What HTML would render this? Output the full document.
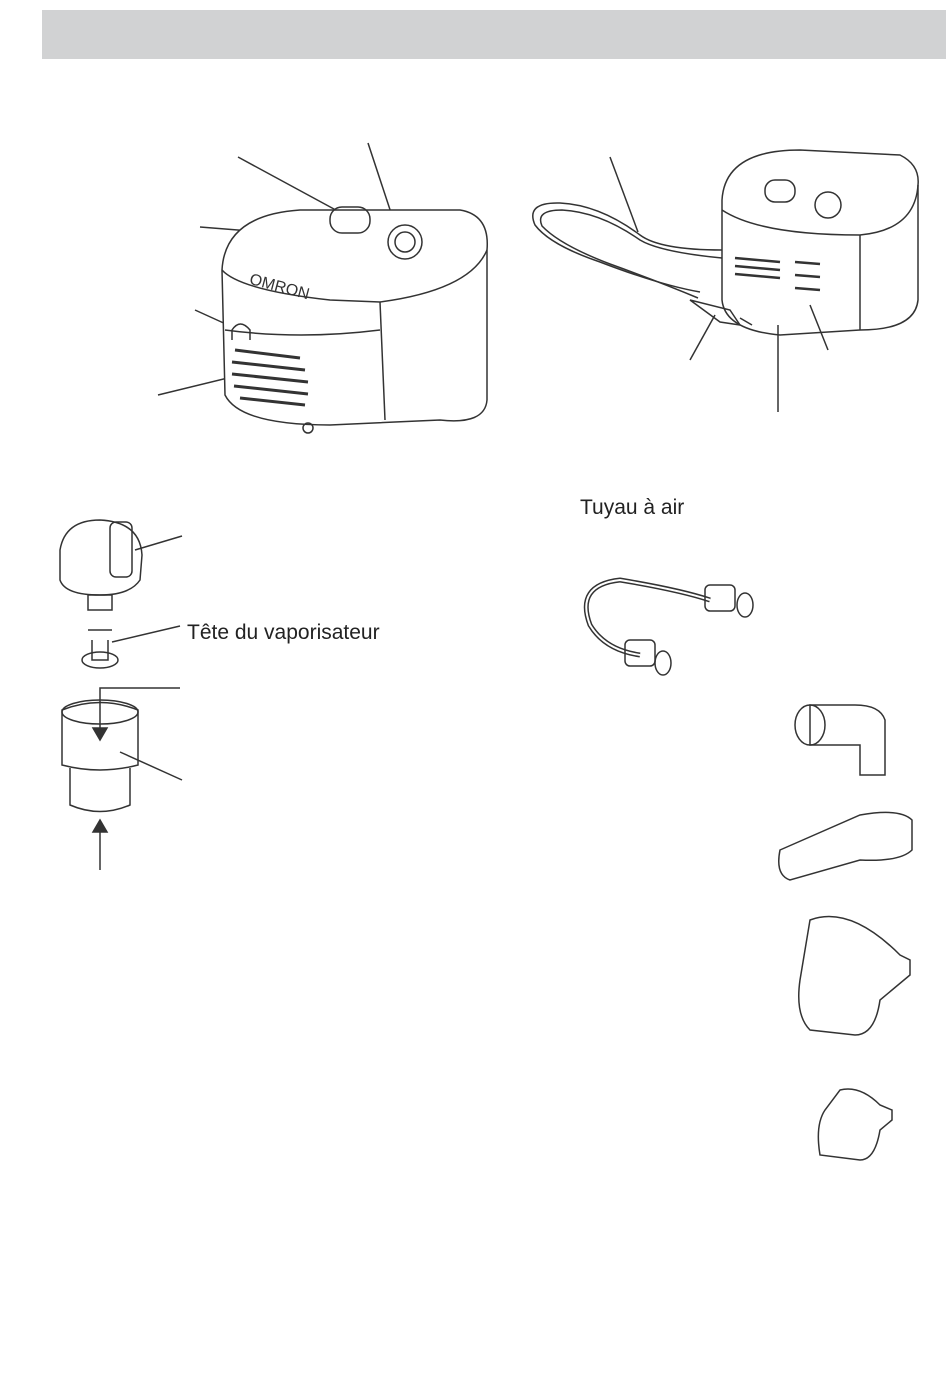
<!DOCTYPE html>
<html><head><meta charset="utf-8"><style>
html,body{margin:0;padding:0;background:#fff;width:950px;height:1373px;overflow:hidden}
.t{position:absolute;font-family:"Liberation Sans",sans-serif;font-size:21px;color:#222}
</style></head><body>
<div style="position:absolute;left:42px;top:10px;width:904px;height:49px;background:#d1d2d3"></div>
<div class="t" style="left:580px;top:496px">Tuyau à air</div>
<div class="t" style="left:187px;top:621px">Tête du vaporisateur</div>
<svg width="950" height="1373" style="position:absolute;left:0;top:0" fill="none" stroke="#333" stroke-width="1.5">
<line x1="238" y1="157" x2="345" y2="215"/>
<line x1="368" y1="143" x2="400" y2="240"/>
<line x1="200" y1="227" x2="338" y2="238"/>
<line x1="195" y1="310" x2="228" y2="325"/>
<line x1="158" y1="395" x2="240" y2="375"/>
<path d="M222 270 Q225 215 300 210 L460 210 Q490 215 487 250 L487 400 Q485 425 440 420 L330 425 Q240 425 225 395 Z" fill="#fff"/>
<path d="M222 270 Q240 290 330 300 L380 302 Q470 290 487 250"/>
<path d="M380 302 L385 420"/>
<path d="M225 330 Q300 340 380 330"/>
<rect x="330" y="207" width="40" height="26" rx="12"/>
<circle cx="405" cy="242" r="17"/><circle cx="405" cy="242" r="10"/>
<text x="248" y="292" font-family="Liberation Sans" font-size="16" fill="#333" stroke="none" transform="rotate(15 280 290)">OMRON</text>
<path d="M232 340 L232 330 Q240 318 250 330 L250 340"/>
<g stroke-width="3">
<line x1="235" y1="350" x2="300" y2="358"/><line x1="232" y1="362" x2="305" y2="370"/><line x1="232" y1="374" x2="308" y2="382"/><line x1="234" y1="386" x2="308" y2="394"/><line x1="240" y1="398" x2="305" y2="405"/>
</g>
<circle cx="308" cy="428" r="5"/>
<path d="M722 200 Q725 150 800 150 L900 155 Q920 165 918 185 L918 300 Q915 330 860 330 L780 335 Q725 330 722 300 Z" fill="#fff"/>
<path d="M722 210 Q760 235 860 235 Q915 230 918 185"/>
<path d="M860 235 L860 330"/>
<rect x="765" y="180" width="30" height="22" rx="10"/><circle cx="828" cy="205" r="13"/>
<g stroke-width="2.5"><line x1="735" y1="258" x2="780" y2="262"/><line x1="735" y1="266" x2="780" y2="270"/><line x1="735" y1="274" x2="780" y2="278"/><line x1="795" y1="262" x2="820" y2="264"/><line x1="795" y1="275" x2="820" y2="277"/><line x1="795" y1="288" x2="820" y2="290"/></g>
<path d="M722 250 Q660 250 640 235 Q600 205 560 203 Q525 202 535 225 Q550 245 600 262 Q660 285 700 292"/>
<path d="M722 258 Q660 252 640 240 Q600 212 562 210 Q535 210 542 226 Q560 245 610 264 Q660 282 698 298"/>
<path d="M690 300 L730 310 L740 325 L720 322 Z"/>
<line x1="740" y1="318" x2="752" y2="325"/>
<line x1="610" y1="157" x2="638" y2="232"/>
<line x1="690" y1="360" x2="715" y2="315"/>
<line x1="828" y1="350" x2="810" y2="305"/>
<line x1="778" y1="412" x2="778" y2="325"/>
<path d="M60 550 Q65 520 100 520 Q140 522 142 555 L140 580 Q130 595 100 595 Q65 595 60 580 Z"/>
<rect x="110" y="522" width="22" height="55" rx="6"/>
<rect x="88" y="595" width="24" height="15"/>
<line x1="135" y1="550" x2="182" y2="536"/>
<path d="M92 640 L92 660 L108 660 L108 640 M88 630 L112 630"/><ellipse cx="100" cy="660" rx="18" ry="8"/>
<line x1="112" y1="642" x2="180" y2="626"/>
<path d="M62 710 Q100 695 138 710 L138 765 Q100 775 62 765 Z"/>
<ellipse cx="100" cy="712" rx="38" ry="12"/>
<path d="M70 768 L70 805 Q100 818 130 805 L130 768"/>
<path d="M100 730 L100 688 L180 688"/>
<path d="M100 740 l-7 -12 l14 0 Z" fill="#333"/>
<line x1="120" y1="752" x2="182" y2="780"/>
<line x1="100" y1="870" x2="100" y2="826"/>
<path d="M100 820 l-7 12 l14 0 Z" fill="#333"/>
<path d="M710 600 Q680 590 620 580 Q575 585 590 625 Q605 650 640 655" stroke-width="5"/>
<path d="M710 600 Q680 590 620 580 Q575 585 590 625 Q605 650 640 655" stroke="#fff" stroke-width="2"/>
<rect x="705" y="585" width="30" height="26" rx="5"/><ellipse cx="745" cy="605" rx="8" ry="12"/>
<rect x="625" y="640" width="30" height="26" rx="5"/><ellipse cx="663" cy="663" rx="8" ry="12"/>
<path d="M810 705 L855 705 Q880 705 885 720 L885 775 L860 775 L860 745 L810 745 Z"/><ellipse cx="810" cy="725" rx="15" ry="20"/>
<path d="M780 850 L860 815 Q900 808 912 820 L912 850 Q900 862 860 860 L790 880 Q775 875 780 850 Z"/>
<path d="M810 920 Q850 905 900 955 L910 960 L910 975 L880 1000 Q875 1035 855 1035 L810 1030 Q795 1015 800 980 Z"/>
<path d="M840 1090 Q860 1085 880 1105 L892 1110 L892 1120 L880 1130 Q875 1160 860 1160 L820 1155 Q815 1125 825 1110 Z"/>
</svg>
</body></html>
